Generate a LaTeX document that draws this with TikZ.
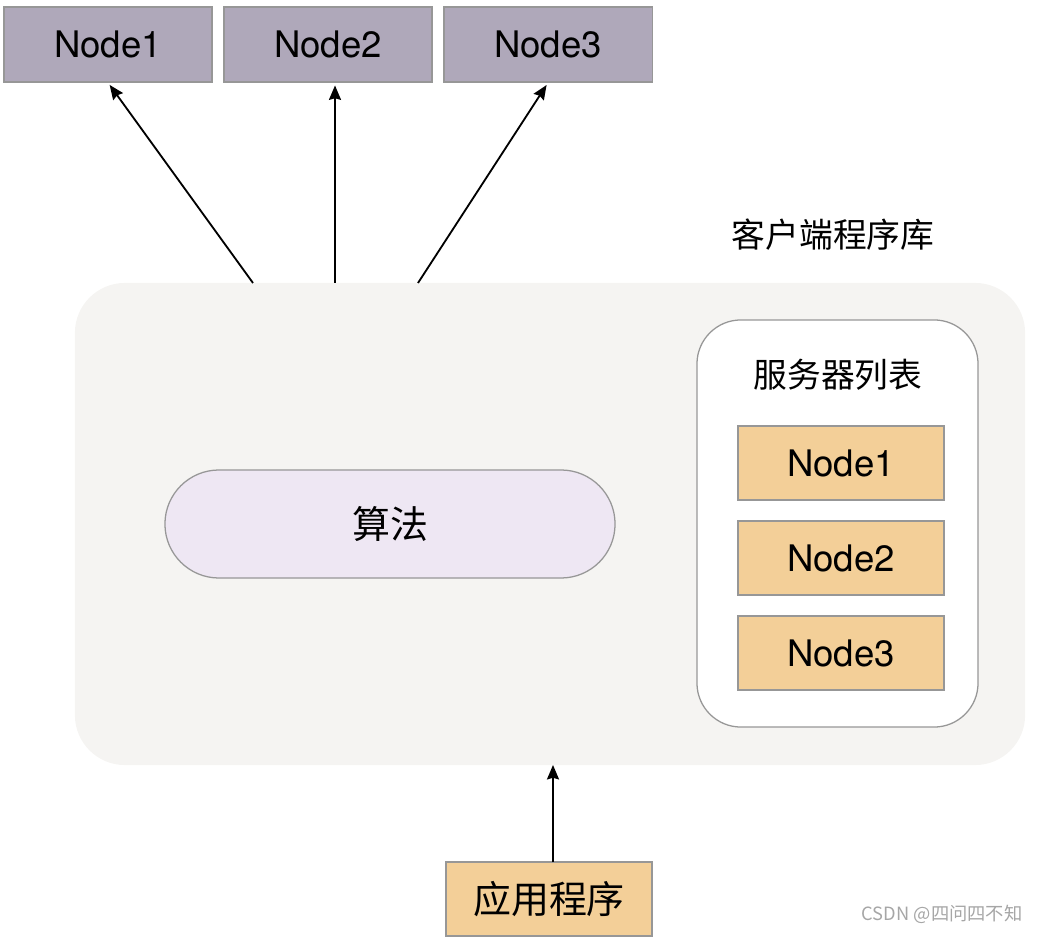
\documentclass[tikz,border=0pt]{standalone}
\usepackage{fontspec}
\setmainfont{TeX Gyre Heros}
\newfontfamily\cjk{Noto Sans CJK SC}
\usetikzlibrary{arrows.meta,positioning}

\definecolor{nodegray}{HTML}{AFA8BA}
\definecolor{nodetan}{HTML}{F3CF98}
\definecolor{libfill}{HTML}{F5F4F2}
\definecolor{algfill}{HTML}{EEE7F3}
\definecolor{edgegray}{HTML}{979797}

\begin{document}
\begin{tikzpicture}[x=0.025cm,y=-0.025cm,->,>={Stealth[length=0.36cm,width=0.3cm,inset=0.04cm]},line width=1.3pt,node distance=5.5cm]
  \tikzset{
    server/.style={rectangle,draw=edgegray,line width=0.9pt,minimum width=5.2cm,minimum height=1.875cm,
      font=\fontsize{26}{30}\selectfont,inner sep=0pt},
    remote/.style={server,fill=nodegray},
    local/.style={server,fill=nodetan,minimum width=5.15cm,minimum height=1.85cm},
    cjklabel/.style={font=\cjk\fontsize{24}{28}\selectfont}
  }
  \useasboundingbox (0,0) rectangle (1040,944);

  % client library
  \node[fill=libfill,rounded corners=1.25cm,minimum width=23.75cm,minimum height=12.05cm] (lib) at (550,524) {};
  \node[cjklabel] (libname) at (833,235) {客户端程序库};

  \node[draw=edgegray,line width=0.9pt,fill=algfill,rounded corners=1.35cm,minimum width=11.25cm,minimum height=2.7cm,
        font=\cjk\fontsize{27}{30}\selectfont] (alg) at (390,524) {算法};

  \node[draw=edgegray,line width=0.9pt,fill=white,rounded corners=1.1cm,minimum width=7.025cm,minimum height=10.175cm] (list) at (837.5,523.5) {};
  \node[cjklabel] (listname) at (838,375) {服务器列表};

  \node[local] (s1) at (841,463) {Node1};
  \node[local] (s2) [below of=s1,node distance=2.375cm] {Node2};
  \node[local] (s3) [below of=s2,node distance=2.375cm] {Node3};

  % remote nodes
  \node[remote] (n1) at (108,44.5) {Node1};
  \node[remote] (n2) [right of=n1] {Node2};
  \node[remote] (n3) [right of=n2] {Node3};

  \node[local,font=\cjk\fontsize{27}{30}\selectfont] (app) at (549,899) {应用程序};

  \coordinate (out1) at (253,283);
  \coordinate (out2) at (335,283);
  \coordinate (out3) at (418,283);
  \coordinate (in) at (553,765);
  \coordinate (appout) at (553,862);

  \draw[shorten >=2pt] (out1) -- (n1.south);
  \draw[shorten >=2pt] (out2) -- (out2 |- n2.south);
  \draw[shorten >=2pt] (out3) -- (n3.south);
  \draw (appout) -- (in);

  \node[font=\cjk\fontsize{13}{15}\selectfont,text=black!35,anchor=east] (mark) at (1028,914) {CSDN @四问四不知};
\end{tikzpicture}
\end{document}
